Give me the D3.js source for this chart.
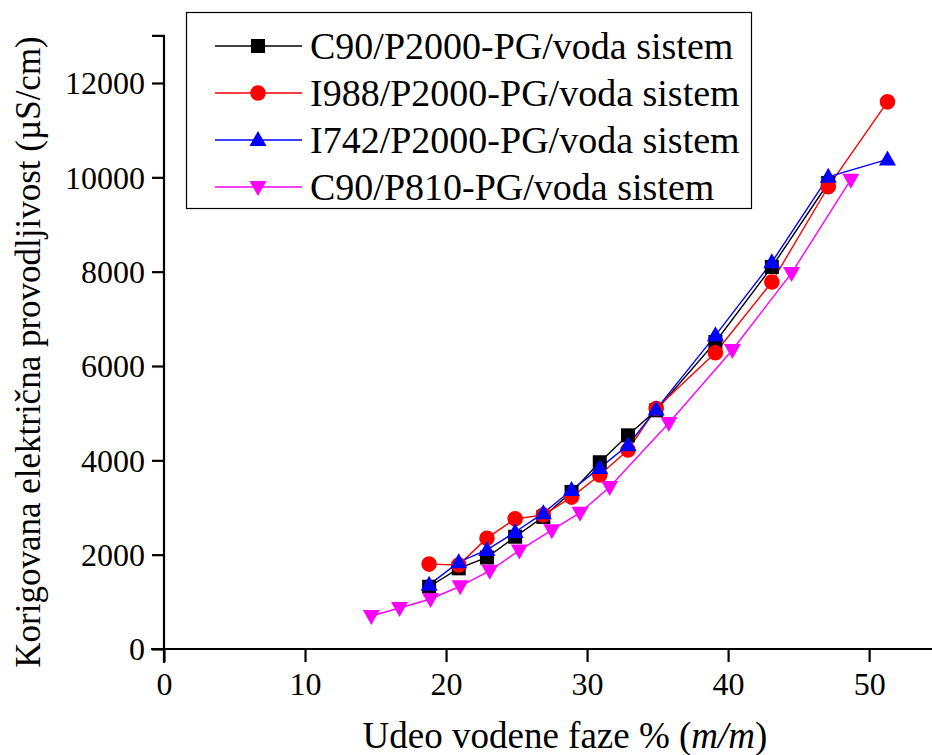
<!DOCTYPE html>
<html>
<head>
<meta charset="utf-8">
<script src="https://cdn.jsdelivr.net/npm/d3@7"></script>
<style>
  html, body { margin: 0; padding: 0; background: #fff; }
  svg { display: block; }
</style>
</head>
<body>
<svg id="chart" width="932" height="755"></svg>
<script>
// Water fraction (% m/m) for each system
const xC90P2000 = [18.8, 20.9, 22.9, 24.9, 26.9, 28.9, 30.9, 32.9, 34.9, 39.1, 43.1, 47.1];
const xI988     = [18.8, 20.9, 22.9, 24.9, 26.9, 28.9, 30.9, 32.9, 34.9, 39.1, 43.1, 47.1, 51.3];
const xI742     = [18.8, 20.9, 22.9, 24.9, 26.9, 28.9, 30.9, 32.9, 34.9, 39.1, 43.1, 47.1, 51.3];
const xC90P810  = [14.7, 16.7, 18.9, 21.0, 23.1, 25.2, 27.5, 29.5, 31.6, 35.8, 40.3, 44.5, 48.7];

// Corrected electrical conductivity (µS/cm)
const yC90P2000 = [1320, 1710, 1940, 2380, 2800, 3330, 3960, 4530, 5060, 6510, 8100, 9880];
const yI988     = [1800, 1780, 2350, 2760, 2840, 3220, 3690, 4220, 5100, 6280, 7780, 9800, 11600];
const yI742     = [1360, 1840, 2100, 2480, 2880, 3370, 3840, 4320, 5080, 6650, 8200, 10010, 10380];
const yC90P810  = [700, 869, 1060, 1330, 1660, 2090, 2520, 2890, 3434, 4790, 6340, 7970, 9950];

const seriesNames = [
  "C90/P2000-PG/voda sistem",
  "I988/P2000-PG/voda sistem",
  "I742/P2000-PG/voda sistem",
  "C90/P810-PG/voda sistem"
];
const seriesColors = ["#000000", "#ff0000", "#0000ff", "#ff00ff"];
const seriesSymbols = ["square", "circle", "triangle", "triangleDown"];

const xTicks = [0, 10, 20, 30, 40, 50];
const yTicks = [0, 2000, 4000, 6000, 8000, 10000, 12000];

const xTitle = "Udeo vodene faze % (";
const yTitle = "Korigovana električna provodljivost (µS/cm)";

const FONT = "'Liberation Serif', 'Times New Roman', Times, serif";

const series = [
  { xs: xC90P2000, ys: yC90P2000 },
  { xs: xI988, ys: yI988 },
  { xs: xI742, ys: yI742 },
  { xs: xC90P810, ys: yC90P810 }
].map((s, i) => ({
  name: seriesNames[i], color: seriesColors[i], symbol: seriesSymbols[i],
  points: s.xs.map((x, j) => ({ x, y: s.ys[j] }))
}));

const svg = d3.select("#chart");

const x = d3.scaleLinear().domain([0, 54.6]).range([164, 934]);
const y = d3.scaleLinear().domain([0, 12000]).range([649, 83]);

// Marker path generator
function markerPath(sym) {
  switch (sym) {
    case "square": return "M-7,-7H7V7H-7Z";
    case "circle": return d3.symbol(d3.symbolCircle, 190)();
    case "triangle": return "M0,-9L8.5,6L-8.5,6Z";
    case "triangleDown": return "M0,9L8.5,-6L-8.5,-6Z";
  }
}

// Axes
const xAxis = d3.axisBottom(x).tickValues(xTicks).tickFormat(d3.format("d"))
  .tickSize(13).tickSizeOuter(0).tickPadding(6);
const yAxis = d3.axisLeft(y).tickValues(yTicks).tickFormat(d3.format("d"))
  .tickSize(12).tickSizeOuter(0).tickPadding(7);

const gx = svg.append("g").attr("transform", "translate(0,649)").call(xAxis);
gx.select(".domain").attr("d", "M151,0H932");
gx.selectAll("text").attr("dy", "0.85em");

const gy = svg.append("g").attr("transform", "translate(164,0)").call(yAxis);
gy.select(".domain").attr("d", `M-12,${y(13000)}H0V663`);
gy.selectAll("text").attr("dy", "0.34em");

svg.selectAll(".domain").attr("stroke", "#000").attr("stroke-width", 2.2).attr("fill", "none");
svg.selectAll(".tick line").attr("stroke", "#000").attr("stroke-width", 2.2);
svg.selectAll(".tick text")
  .attr("font-family", FONT).attr("font-size", 32).attr("fill", "#000");
[gx, gy].forEach(g => g.attr("font-family", FONT).attr("font-size", 32));

// Axis titles
const xt = svg.append("text").attr("x", 565).attr("y", 748)
  .attr("text-anchor", "middle").attr("font-size", 37).attr("font-family", FONT);
xt.append("tspan").text(xTitle);
xt.append("tspan").attr("font-style", "italic").text("m/m");
xt.append("tspan").text(")");

svg.append("text")
  .attr("transform", "translate(40,352) rotate(-90)")
  .attr("text-anchor", "middle")
  .attr("font-family", FONT)
  .attr("font-size", 35)
  .text(yTitle);

// Series lines and markers
const line = d3.line().x(d => x(d.x)).y(d => y(d.y));
series.forEach(s => {
  svg.append("path")
    .attr("d", line(s.points))
    .attr("fill", "none")
    .attr("stroke", s.color)
    .attr("stroke-width", 1.4);
});
series.forEach(s => {
  svg.append("g").selectAll("path")
    .data(s.points)
    .join("path")
    .attr("transform", d => `translate(${x(d.x)},${y(d.y)})`)
    .attr("d", markerPath(s.symbol))
    .attr("fill", s.color);
});

// Legend
const legend = svg.append("g");
legend.append("rect")
  .attr("x", 186.5).attr("y", 12.5).attr("width", 565).attr("height", 196)
  .attr("fill", "#fff").attr("stroke", "#000").attr("stroke-width", 1.2);
series.forEach((s, i) => {
  const ly = 46 + i * 47;
  legend.append("line").attr("x1", 215).attr("x2", 302).attr("y1", ly).attr("y2", ly)
    .attr("stroke", s.color).attr("stroke-width", 1.4);
  legend.append("path").attr("transform", `translate(258,${ly})`)
    .attr("d", markerPath(s.symbol)).attr("fill", s.color);
  legend.append("text").attr("x", 310).attr("y", ly).attr("dy", "0.35em")
    .attr("font-family", FONT).attr("font-size", 38).attr("fill", "#000").text(s.name);
});
</script>
</body>
</html>
